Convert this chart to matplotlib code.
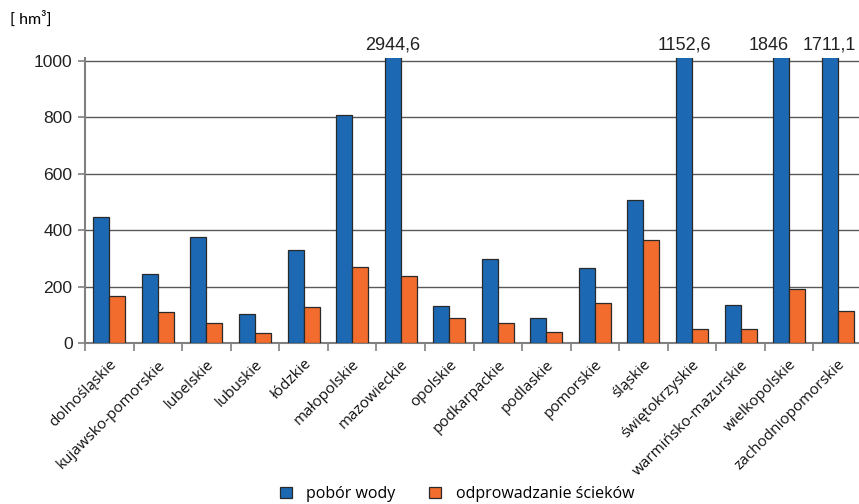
import matplotlib
matplotlib.use("Agg")
import matplotlib.pyplot as plt
import numpy as np
from matplotlib.patches import Patch

regions = ["dolnośląskie", "kujawsko-pomorskie", "lubelskie", "lubuskie", "łódzkie",
           "małopolskie", "mazowieckie", "opolskie", "podkarpackie", "podlaskie",
           "pomorskie", "śląskie", "świętokrzyskie", "warmińsko-mazurskie",
           "wielkopolskie", "zachodniopomorskie"]

water_intake = [448, 245, 376, 102, 330, 808, 2944.6, 131, 300, 91, 266, 508,
                1152.6, 135, 1846, 1711.1]
wastewater = [167, 112, 73, 35, 129, 271, 238, 88, 72, 40, 141, 366, 52, 49, 193, 114]

y_ticks = [0, 200, 400, 600, 800, 1000]
y_top = 1000
legend_labels = ["pobór wody", "odprowadzanie ścieków"]
unit_label = "[ hm³]"

blue = "#1c68b3"
orange = "#f26c2d"
edge = "#2a2a2a"
label_font = ["Open Sans", "DejaVu Sans"]
num_font = ["Liberation Sans", "DejaVu Sans"]

fig = plt.figure(figsize=(8.59, 5.04), dpi=100)
W, H = 859, 504
left, right = 85, 862
bottom_px, top_px = 343.3, 58.0
ax = fig.add_axes([left / W, 1 - bottom_px / H, (right - left) / W, (bottom_px - top_px) / H])

n = len(regions)
x = np.arange(n)
bw = 0.33
ax.bar(x - bw / 2, water_intake, width=bw, color=blue, edgecolor=edge, linewidth=0.9, zorder=3)
ax.bar(x + bw / 2, wastewater, width=bw, color=orange, edgecolor=edge, linewidth=0.9, zorder=3)

ylim_top = y_top * (bottom_px - top_px) / (bottom_px - 60.7)
ax.set_ylim(0, ylim_top)
ax.set_xlim(-0.5, n - 0.5)

# values beyond the axis range are written above their clipped bars;
# the wielkopolskie label is nudged left so it clears its neighbour
nudge = {"wielkopolskie": -9}
for name, xi, v in zip(regions, x, water_intake):
    if v > y_top:
        txt = f"{v:g}".replace(".", ",")
        ax.annotate(txt, (xi - bw / 2, ylim_top), xytext=(nudge.get(name, 0), 3),
                    textcoords="offset points", ha="center", va="bottom", fontsize=13,
                    family=num_font, color="#222222", annotation_clip=False)

ax.set_yticks(y_ticks)
ax.set_yticklabels([str(t) for t in y_ticks], family=num_font, fontsize=12.6, color="#222222")
ax.tick_params(axis="y", length=5, width=1.2, color="#808080", pad=4)
ax.yaxis.grid(True, color="#5a5a5a", linewidth=1.0, zorder=0)
ax.set_axisbelow(True)

ax.set_xticks(x)
ax.set_xticklabels(regions, rotation=45, ha="right", rotation_mode="anchor",
                   family=label_font, fontsize=11, color="#111111")
ax.tick_params(axis="x", which="major", length=0, pad=10)
ax.set_xticks(np.arange(n + 1) - 0.5, minor=True)
ax.tick_params(axis="x", which="minor", length=6, width=1.2, color="#808080")

for s in ["top", "right"]:
    ax.spines[s].set_visible(False)
ax.spines["left"].set_color("#808080")
ax.spines["left"].set_linewidth(1.5)
ax.spines["bottom"].set_color("#808080")
ax.spines["bottom"].set_linewidth(1.5)

fig.text(10 / W, 1 - 19 / H, unit_label, family=["Lato", "DejaVu Sans"], fontsize=11.5,
         va="center", ha="left")

handles = [Patch(facecolor=blue, edgecolor=edge, linewidth=0.9),
           Patch(facecolor=orange, edgecolor=edge, linewidth=0.9)]
fig.legend(handles, legend_labels, loc="center left", bbox_to_anchor=(280 / W, 1 - 494 / H),
           ncol=2, frameon=False, prop={"family": label_font, "size": 11.5},
           handlelength=0.75, handleheight=0.75, handletextpad=0.9, columnspacing=2.1,
           borderpad=0, borderaxespad=0)

fig.savefig("out.png", dpi=100)
